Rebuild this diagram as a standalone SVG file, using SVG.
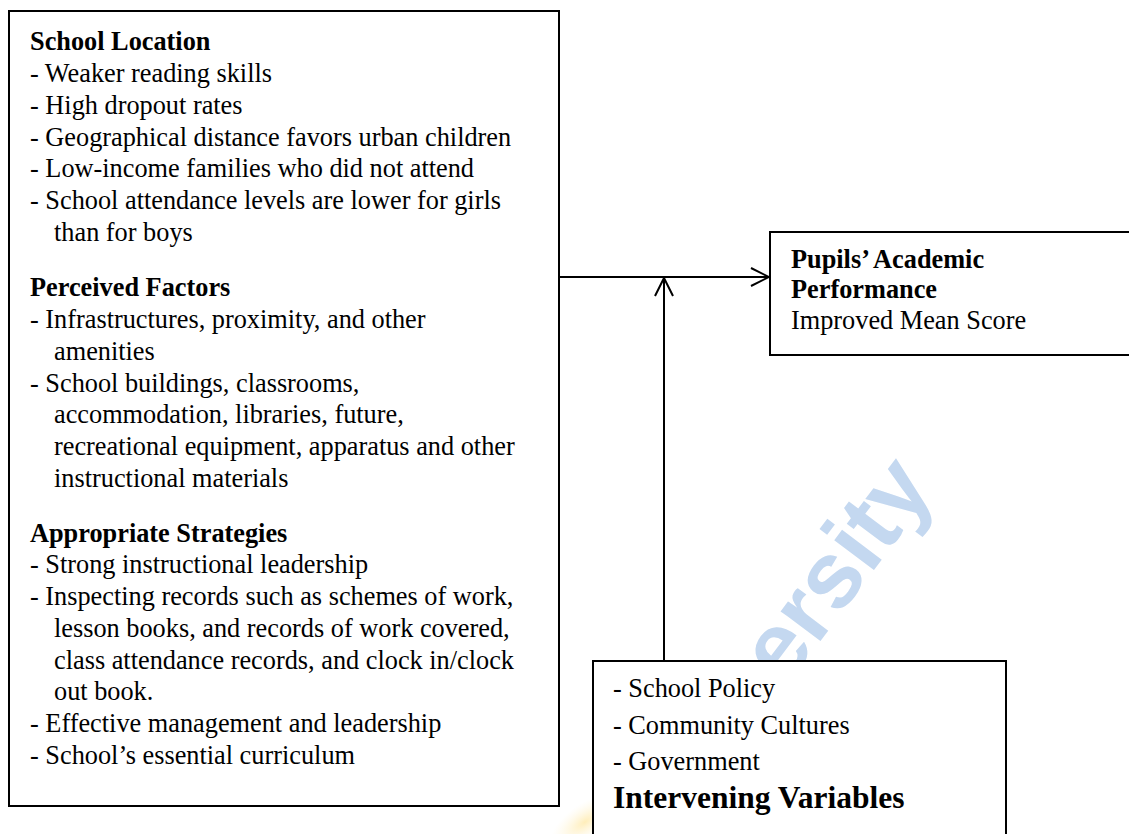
<svg xmlns="http://www.w3.org/2000/svg" width="1129" height="834" viewBox="0 0 1129 834">
  <style>
    .box { fill: #ffffff; stroke: #000000; stroke-width: 2; }
    .txt { font-family: "Liberation Serif", "Times New Roman", serif; font-size: 26.3px; fill: #000000; }
    .hd { font-weight: bold; }
    .big { font-size: 31.5px; font-weight: bold; }
    .wire { fill: none; stroke: #000000; stroke-width: 2; }
    .wm { font-family: "Liberation Sans", Arial, sans-serif; font-weight: bold; font-size: 94px; fill: #c4d8f0; }
  </style>
  <defs>
    <marker id="chevron" viewBox="0 0 20 20" refX="19" refY="10" markerWidth="20" markerHeight="20" markerUnits="userSpaceOnUse" orient="auto">
      <path d="M1,1 L19,10 L1,19" fill="none" stroke="#000000" stroke-width="2"/>
    </marker>
    <radialGradient id="glow" cx="0.5" cy="0.5" r="0.5">
      <stop offset="0" stop-color="#ffe9a8" stop-opacity="0.8"/>
      <stop offset="1" stop-color="#fff6dc" stop-opacity="0"/>
    </radialGradient>
  </defs>

  <rect x="0" y="0" width="1129" height="834" fill="#ffffff"/>

  <!-- watermark -->
  <g id="watermark">
    <ellipse cx="585" cy="822" rx="40" ry="18" fill="url(#glow)" transform="rotate(-35 585 822)"/>
    <text class="wm" x="0" y="0" transform="translate(785 688) rotate(-53)">ersity</text>
  </g>

  <!-- independent variables -->
  <g id="independent">
    <rect class="box" x="9" y="11" width="550" height="795"/>
    <text class="txt" x="30">
      <tspan class="hd" x="30" y="50">School Location</tspan>
      <tspan x="30" y="82">- Weaker reading skills</tspan>
      <tspan x="30" y="114">- High dropout rates</tspan>
      <tspan x="30" y="146">- Geographical distance favors urban children</tspan>
      <tspan x="30" y="177">- Low-income families who did not attend</tspan>
      <tspan x="30" y="209">- School attendance levels are lower for girls</tspan>
      <tspan x="54" y="241">than for boys</tspan>
      <tspan class="hd" x="30" y="296">Perceived Factors</tspan>
      <tspan x="30" y="328">- Infrastructures, proximity, and other</tspan>
      <tspan x="54" y="360">amenities</tspan>
      <tspan x="30" y="392">- School buildings, classrooms,</tspan>
      <tspan x="54" y="423">accommodation, libraries, future,</tspan>
      <tspan x="54" y="455">recreational equipment, apparatus and other</tspan>
      <tspan x="54" y="487">instructional materials</tspan>
      <tspan class="hd" x="30" y="542">Appropriate Strategies</tspan>
      <tspan x="30" y="573">- Strong instructional leadership</tspan>
      <tspan x="30" y="605">- Inspecting records such as schemes of work,</tspan>
      <tspan x="54" y="637">lesson books, and records of work covered,</tspan>
      <tspan x="54" y="669">class attendance records, and clock in/clock</tspan>
      <tspan x="54" y="700">out book.</tspan>
      <tspan x="30" y="732">- Effective management and leadership</tspan>
      <tspan x="30" y="764">- School’s essential curriculum</tspan>
    </text>
  </g>

  <!-- dependent variable -->
  <g id="dependent">
    <rect class="box" x="770" y="232" width="370" height="123"/>
    <text class="txt">
      <tspan class="hd" x="791" y="268">Pupils’ Academic</tspan>
      <tspan class="hd" x="791" y="298">Performance</tspan>
      <tspan x="791" y="329">Improved Mean Score</tspan>
    </text>
  </g>

  <!-- intervening variables -->
  <g id="intervening">
    <rect class="box" x="593" y="661" width="413" height="190"/>
    <text class="txt">
      <tspan x="613" y="697">- School Policy</tspan>
      <tspan x="613" y="734">- Community Cultures</tspan>
      <tspan x="613" y="770">- Government</tspan>
      <tspan class="big" x="613" y="808">Intervening Variables</tspan>
    </text>
  </g>

  <!-- connectors -->
  <g id="connectors">
    <line class="wire" x1="559" y1="277" x2="769" y2="277" marker-end="url(#chevron)"/>
    <line class="wire" x1="664" y1="661" x2="664" y2="278" marker-end="url(#chevron)"/>
  </g>
</svg>
